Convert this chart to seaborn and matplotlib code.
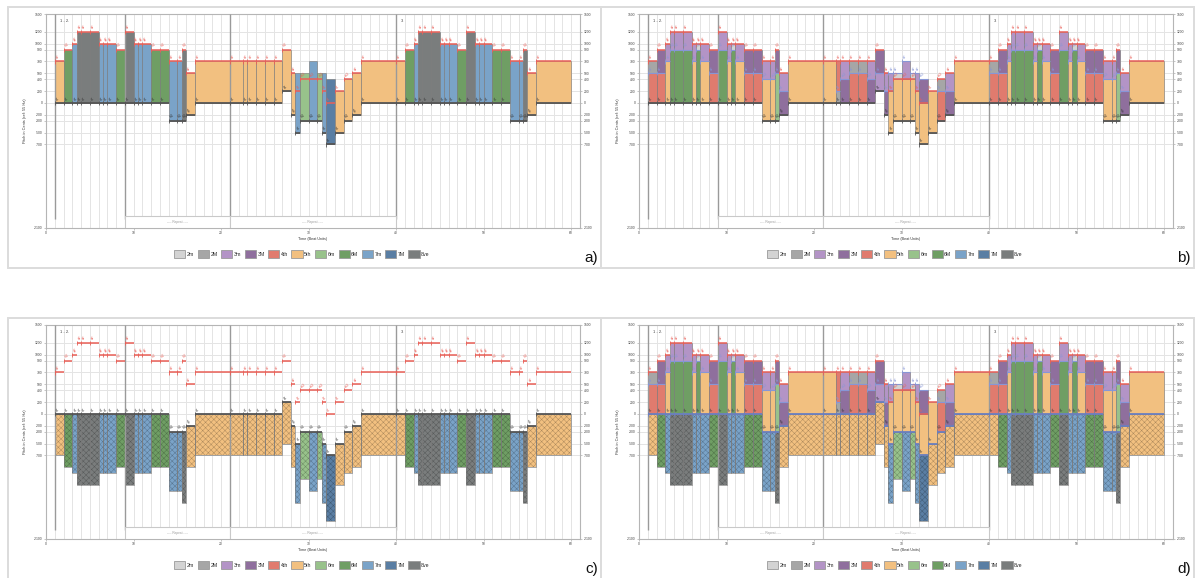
import matplotlib
matplotlib.use("Agg")
import matplotlib.pyplot as plt
from matplotlib.patches import Patch, Rectangle
import matplotlib.colors as mcolors
import numpy as np
import pandas as pd
import seaborn as sns

# ---------------------------------------------------------------- data
# Note onsets in beat units; the piece closes at end_time
onsets = [1, 2, 3, 3.5, 4, 5, 6, 6.5, 7, 8, 9, 10, 10.5, 11, 12, 13, 14, 15, 15.5, 16,
          17, 21, 22.5, 23, 24, 25, 26, 27, 28, 28.5, 29, 30, 31, 31.5, 32, 33, 34, 35, 36,
          40, 41, 42, 42.5, 43, 44, 45, 45.5, 46, 47, 48, 49, 49.5, 50, 51, 52, 53, 54, 54.5, 55,
          56]
end_time = 60

# Lowest voice, in cents above 55 Hz
bass_cents = [0, 0, 0, 0, 0, 0, 0, 0, 0, 0, 0, 0, 0, 0, 0, 0, -300, -300, -300, -200,
              0, 0, 0, 0, 0, 0, 0, 200, -200, -500, -300, -300, -300, -500, -700, -500, -300, -200, 0,
              0, 0, 0, 0, 0, 0, 0, 0, 0, 0, 0, 0, 0, 0, 0, 0, -300, -300, -300, -200,
              0]

# Highest voice
top_cents = [700, 900, 1000, 1200, 1200, 1200, 1000, 1000, 1000, 900, 1200, 1000, 1000, 1000, 900, 900, 700, 700, 900, 500,
             700, 700, 700, 700, 700, 700, 700, 900, 500, 500, 500, 700, 500, 500, 400, 200, 400, 500, 700,
             700, 900, 1000, 1200, 1200, 1200, 1000, 1000, 1000, 900, 1200, 1000, 1000, 1000, 900, 900, 700, 700, 900, 500,
             700]

# Middle voice (None where the chord has only two voices)
inner_cents = [500, 500, 700, 900, 900, 900, 700, 900, 700, 500, 900, 700, 900, 700, 500, 500, 400, 400, 500, 200,
               None, None, 200, 400, 500, 500, 400, 500, 200, 200, 400, 400, 400, 200, 0, None, 200, 200, None,
               500, 500, 700, 900, 900, 900, 700, 900, 700, 500, 900, 700, 900, 700, 500, 500, 400, 400, 500, 200,
               None]

# Melody voice
melody_cents = [700, 900, 1000, 1200, 1200, 1200, 1000, 1000, 1000, 900, 1200, 1000, 1000, 1000, 900, 900, 700, 700, 900, 500,
                700, 700, 700, 700, 700, 700, 700, 900, 500, 200, 400, 400, 400, 200, 0, 200, 400, 500, 700,
                700, 900, 1000, 1200, 1200, 1200, 1000, 1000, 1000, 900, 1200, 1000, 1000, 1000, 900, 900, 700, 700, 900, 500,
                700]

interval_names = ["2m", "2M", "3m", "3M", "4th", "5th", "6m", "6M", "7m", "7M", "8ve"]
interval_sizes = [100, 200, 300, 400, 500, 700, 800, 900, 1000, 1100, 1200]
interval_colors = ["#d3d3d3", "#a6a6a6", "#b394c6", "#8f6f9d", "#e07b6e", "#f2c080",
                   "#98c28b", "#6f9e64", "#7aa3c8", "#5a7ea3", "#7a7d7d"]

y_ticks = [1500, 1200, 1000, 900, 700, 500, 400, 200, 0, -200, -300, -500, -700, -2100]
x_ticks = [0, 10, 20, 30, 40, 50, 60]
section_marks = [1, 9, 21, 40]
section_titles = [(1.6, "1 - 2."), (40.6, "3.")]
repeat_spans = [(9, 21), (21, 40)]

# ---------------------------------------------------------------- style
sns.set_theme(style="white")
plt.rcParams["font.family"] = ["Liberation Sans", "DejaVu Sans"]
plt.rcParams["hatch.linewidth"] = 0.35

df = pd.DataFrame({"onset": onsets,
                   "offset": onsets[1:] + [end_time],
                   "bass": bass_cents, "top": top_cents,
                   "inner": inner_cents, "melody": melody_cents})
df["width"] = df["offset"] - df["onset"]
size_color = dict(zip(interval_sizes, interval_colors))

NOTE_NAMES = ["a", "a#", "b", "c", "c#", "d", "d#", "e", "f", "f#", "g", "g#"]


def note_label(cents):
    semis = int(round(cents / 100))
    return f"{NOTE_NAMES[semis % 12]}{(33 + semis) // 12 - 1}"


def darker(c, f=0.72):
    r, g, b = mcolors.to_rgb(c)
    return (r * f, g * f, b * f)


RED = "#ea5f57"
BLUE = "#8796d6"
DARK = "#555555"
LBL = 2.3

W, H = 1203, 578
fig = plt.figure(figsize=(W / 100, H / 100), dpi=100)
fig.patch.set_facecolor("white")


def add_px_axes(left, top, right, bottom):
    return fig.add_axes([left / W, 1 - bottom / H, (right - left) / W, (bottom - top) / H])


def setup_axes(ax):
    ax.set_xlim(0, 61)
    ax.set_ylim(-2100, 1500)
    ax.set_yticks(y_ticks)
    ax.set_yticklabels([str(v) for v in y_ticks])
    ax.set_xticks(x_ticks)
    ax.set_xticks(np.arange(0, 62, 1), minor=True)
    ax.grid(True, which="both", color="#e4e4e4", lw=0.7)
    ax.grid(False, which="minor", axis="y")
    ax.set_axisbelow(True)
    ax.tick_params(axis="both", which="major", labelsize=2.4, length=1.5, width=0.4,
                   colors="#999999", labelcolor="#444444", pad=1.2,
                   left=True, right=True, labelright=True, bottom=True)
    ax.tick_params(axis="both", which="minor", length=0)
    for s in ax.spines.values():
        s.set_color("#b5b5b5")
        s.set_linewidth(0.8)
    ax.set_xlabel("Time (Beat Units)", fontsize=2.7, color="#333333", labelpad=1.5)
    ax.set_ylabel("Pitch in Cents (ref: 55 Hz)", fontsize=2.8, color="#333333", labelpad=5)
    ax.set_facecolor("white")
    # section markers and repeat boxes
    ax.vlines(section_marks, -1950, 1500, color="#9a9a9a", lw=1.0, zorder=2.6)
    for x, t in section_titles:
        ax.text(x, 1390, t, fontsize=3.0, color="#444444", va="center", ha="left", zorder=5)
    for a, b in repeat_spans:
        ax.add_patch(Rectangle((a, -2100), b - a, 200, facecolor="white",
                               edgecolor="#c9c9c9", lw=0.8, zorder=3))
        ax.text((a + b) / 2, -2000, "---- Repeat ----", fontsize=2.3, color="#9a9a9a",
                ha="center", va="center", zorder=4)


def voice_line(ax, values, color, lw, labels=True, lcolor=None):
    for r, v in zip(df.itertuples(), values):
        if v is None or (isinstance(v, float) and np.isnan(v)):
            continue
        ax.hlines(v, r.onset, r.offset, color=color, lw=lw, zorder=3.5)
        ax.vlines(r.onset, v - 35, v + 35, color=color, lw=0.6, zorder=3.5)
        if labels:
            ax.text(r.onset + 0.05, v + 25, note_label(v), fontsize=LBL, rotation=35,
                    color=lcolor or color, ha="left", va="bottom", zorder=4)


def span_bars(ax):
    cols = [size_color[t - b] for t, b in zip(df["top"], df["bass"])]
    ax.bar(df["onset"], df["top"] - df["bass"], width=df["width"], bottom=df["bass"],
           align="edge", color=cols, edgecolor="#777777", lw=0.4, zorder=2)


def stacked_bars(ax):
    for r in df.itertuples():
        cuts = [r.bass] + ([r.inner] if r.inner is not None and not pd.isna(r.inner) else []) + [r.top]
        for lo, hi in zip(cuts[:-1], cuts[1:]):
            ax.bar(r.onset, hi - lo, width=r.width, bottom=lo, align="edge",
                   color=size_color[int(hi - lo)], edgecolor="#777777", lw=0.4, zorder=2)


def lower_bars(ax):
    sizes = [t - b for t, b in zip(df["top"], df["bass"])]
    cols = [size_color[s] for s in sizes]
    bottoms = [b - s for b, s in zip(df["bass"], sizes)]
    ax.bar(df["onset"], sizes, width=df["width"], bottom=bottoms, align="edge",
           color=cols, edgecolor=[darker(c) for c in cols], lw=0, hatch="xxxxxx", zorder=2)
    ax.bar(df["onset"], sizes, width=df["width"], bottom=bottoms, align="edge",
           fill=False, edgecolor="#7a7a7a", lw=0.45, zorder=2.1)


def upper_voices(ax):
    # inner voices and tops that are not the melody in blue
    inner_vals = [v if (v is not None and v != m) else None
                  for v, m in zip(df["inner"], df["melody"])]
    top_vals = [t if t != m else None for t, m in zip(df["top"], df["melody"])]
    voice_line(ax, inner_vals, BLUE, 0.8)
    voice_line(ax, top_vals, BLUE, 0.8)


def legend(ax, cx, cy):
    handles = [Patch(facecolor=c, edgecolor="#9a9a9a", lw=0.6) for c in interval_colors]
    ax.legend(handles, interval_names, loc="center", ncol=11, frameon=False,
              bbox_to_anchor=(cx / W, 1 - cy / H), bbox_transform=fig.transFigure,
              fontsize=3.8, handlelength=2.1, handleheight=2.0, handletextpad=0.3,
              columnspacing=0.65, borderpad=0, borderaxespad=0)


panels = {"a": (0, 0), "b": (593, 0), "c": (0, 311), "d": (593, 311)}

for key, (dx, dy) in panels.items():
    fig.patches.append(Rectangle(((8 + dx) / W, 1 - (268 + dy) / H), 593 / W, 261 / H,
                                 transform=fig.transFigure, facecolor="none",
                                 edgecolor="#dcdcdc", lw=1.4, zorder=0))
    ax = add_px_axes(46 + dx, 14 + dy, 579.75 + dx, 227.5 + dy)
    setup_axes(ax)

    if key == "a":
        span_bars(ax)
        voice_line(ax, list(df["bass"]), DARK, 1.3, lcolor="#333333")
        voice_line(ax, list(df["melody"]), RED, 1.1)
    elif key == "b":
        stacked_bars(ax)
        voice_line(ax, list(df["bass"]), DARK, 1.3, lcolor="#333333")
        upper_voices(ax)
        voice_line(ax, list(df["melody"]), RED, 1.1)
    elif key == "c":
        lower_bars(ax)
        voice_line(ax, list(df["bass"]), DARK, 1.3, lcolor="#333333")
        voice_line(ax, list(df["melody"]), RED, 1.1)
    else:
        lower_bars(ax)
        stacked_bars(ax)
        voice_line(ax, list(df["bass"]), "#6a7fc0", 1.3, lcolor="#333333")
        upper_voices(ax)
        voice_line(ax, list(df["melody"]), RED, 1.1)

    legend(ax, 302 + dx, 254 + dy)
    fig.text((598 + dx) / W, 1 - (262 + dy) / H, key + ")", ha="right", va="baseline",
             fontsize=11, color="#111111")

fig.savefig("out.png", dpi=100, facecolor="white")
